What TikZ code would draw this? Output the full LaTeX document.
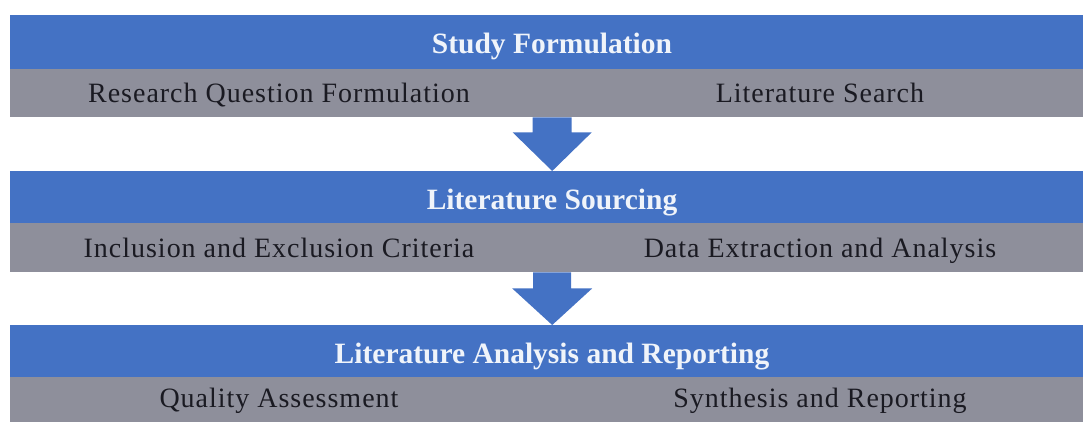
\documentclass[tikz,border=0pt]{standalone}
\usepackage{fontspec}
\setmainfont{Liberation Serif}
\newfontfamily\itemfont[LetterSpace=3.5]{Liberation Serif}
\usetikzlibrary{calc}
\definecolor{bandblue}{HTML}{4472C4}
\definecolor{bandgray}{HTML}{8E8F9B}
\definecolor{itemink}{HTML}{1A1A22}
\definecolor{titleink}{HTML}{F0F4FA}

\begin{document}
\begin{tikzpicture}[x=1pt,y=-1pt,
  headband/.style={fill=bandblue, draw=none, inner sep=0pt, anchor=north west,
    minimum width=1084pt},
  subband/.style={fill=bandgray, draw=none, inner sep=0pt, anchor=north west,
    minimum width=1084pt},
  title/.style={text=titleink, anchor=base, inner sep=0pt,
    font=\fontsize{29.5}{31}\selectfont\bfseries},
  item/.style={text=itemink, anchor=base, inner sep=0pt,
    font=\itemfont\fontsize{28}{30}\selectfont},
  flow/.style={fill=bandblue, draw=none}]
\useasboundingbox (0,0) rectangle (1083,421);
\clip (0,0) rectangle (1083,421);

% stage 1
\node[headband, minimum height=54pt] (h1) at (10,15) {};
\node[subband, minimum height=48pt] (g1) at (10,69) {};
\node[title] (t1) at (552,53) {Study Formulation};
\node[item] (a1) at (279,102) {Research Question Formulation};
\node[item] (b1) at (820,102) {Literature Search};

% stage 2
\node[headband, minimum height=52pt] (h2) at (10,171) {};
\node[subband, minimum height=49pt] (g2) at (10,223) {};
\node[title] (t2) at (552,209) {Literature Sourcing};
\node[item] (a2) at (279,257) {Inclusion and Exclusion Criteria};
\node[item] (b2) at (820,257) {Data Extraction and Analysis};

% stage 3
\node[headband, minimum height=52pt] (h3) at (10,325) {};
\node[subband, minimum height=50pt] (g3) at (10,377) {};
\node[title] (t3) at (552,363) {Literature Analysis and Reporting};
\node[item] (a3) at (279,407) {Quality Assessment};
\node[item] (b3) at (820,407) {Synthesis and Reporting};

% block arrows between stages
\fill[flow] ($(g1.south)+(-19.5,0)$) -- ($(g1.south)+(19.5,0)$)
  -- ($(g1.south)+(19.5,15)$) -- ($(g1.south)+(39.5,15)$)
  -- (h2.north) -- ($(g1.south)+(-39.5,15)$)
  -- ($(g1.south)+(-19.5,15)$) -- cycle;
\fill[flow] ($(g2.south)+(-19,0)$) -- ($(g2.south)+(19,0)$)
  -- ($(g2.south)+(19,16)$) -- ($(g2.south)+(40,16)$)
  -- (h3.north) -- ($(g2.south)+(-40,16)$)
  -- ($(g2.south)+(-19,16)$) -- cycle;
\end{tikzpicture}
\end{document}
